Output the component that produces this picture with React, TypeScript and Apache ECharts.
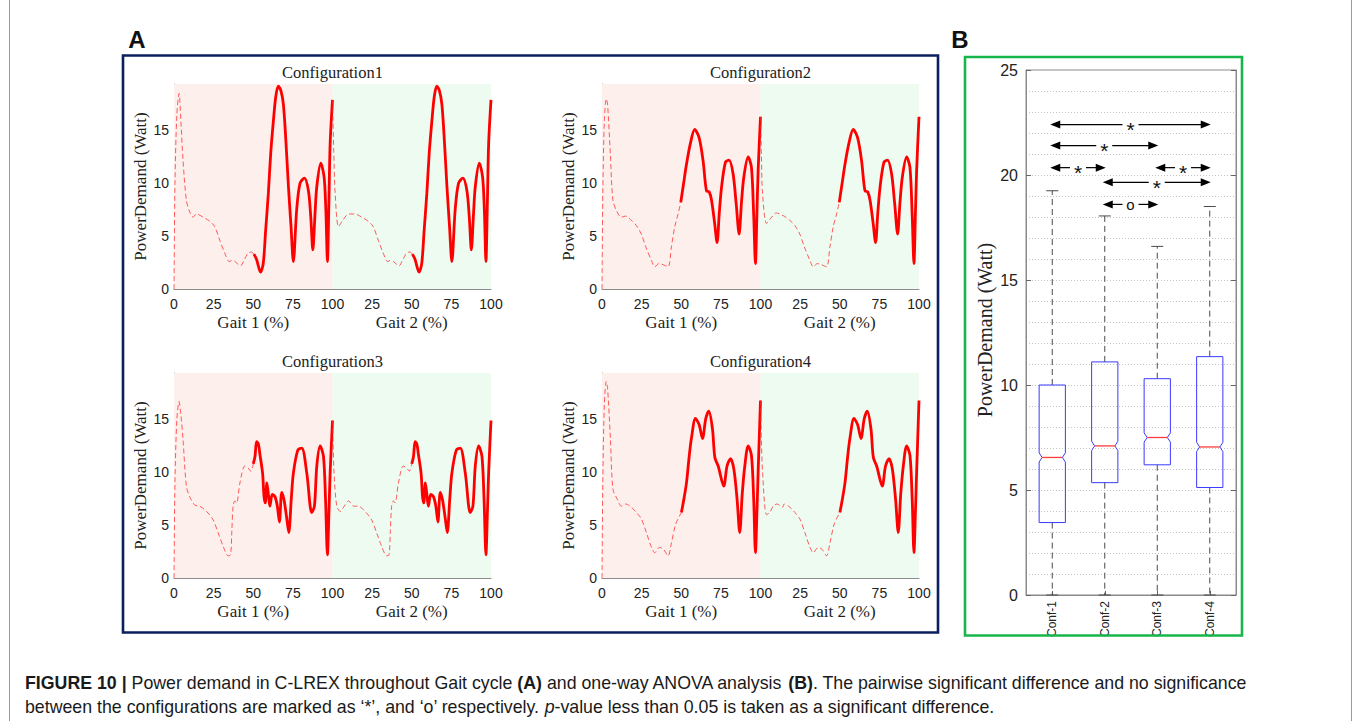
import React, { useEffect, useRef } from "react";
import * as echarts from "echarts";

// ---------- Panel A data (one gait cycle, x in % of gait) ----------
const gaitTicks = ["0", "25", "50", "75", "100", "25", "50", "75", "100"];
const configTitles = ["Configuration1", "Configuration2", "Configuration3", "Configuration4"];

// Configuration 1
const c1Start1: number[][] = [[0, 0], [0.6, 10], [1.8, 16.5], [3.2, 18.5], [4.3, 16], [5.7, 12.2], [7.8, 8.4], [9.9, 7.3], [12, 6.8]];
const c1Start2: number[][] = [[100, 17.9], [100.8, 13], [101.7, 9], [103.8, 5.9], [106.5, 6.5], [109, 7], [111, 7.1]];
const c1Stance: number[][] = [[14.1, 7.1], [18.4, 6.8], [22.6, 6.4], [25.7, 5.9], [28.9, 4.6], [32, 3.4], [34.8, 2.6], [36.5, 2.7], [38.4, 2.6], [42, 2.2], [44.1, 2.7], [46.8, 3.4], [48.9, 3.5], [50.4, 3.3]];
const c1Swing: number[][] = [[50.4, 3.3], [52.1, 2.8], [54.6, 1.6], [56.3, 2.4], [57.8, 5.5], [59.5, 9], [61, 12.8], [62.7, 15.9], [64.2, 18.2], [65.8, 19.2], [67.4, 18.8], [69, 17.5], [70.6, 14], [72.2, 9.7], [73.8, 6], [75.3, 2.6], [77.4, 7.5], [79.5, 10], [82.3, 10.5], [84.8, 9.3], [86.3, 6.8], [87.6, 3.7], [89, 7.2], [90.1, 9.7], [92.6, 11.9], [94.7, 10.6], [95.8, 7.5], [96.8, 2.6], [97.7, 8], [98.5, 13.7], [100, 17.9]];

// Configuration 2
const c2Start1: number[][] = [[0, 0], [0.5, 9], [1.5, 16], [2.7, 18], [3.5, 17.5], [5.3, 12.7], [6.9, 8.4], [9.5, 7.3], [12.2, 6.8]];
const c2Start2: number[][] = [[100, 16.3], [100.6, 12.5], [101.3, 9], [103.8, 6.2], [106, 6.6], [110, 7.2], [113.3, 7]];
const c2Stance: number[][] = [[14.9, 6.9], [18.5, 6.5], [21.7, 6], [24.8, 5.2], [27.6, 4], [31.2, 2.7], [33.3, 2.1], [35.8, 2.4], [38.5, 2.3], [41.7, 2.1], [43.8, 4], [45.9, 5.9], [48, 7.1], [49.7, 8.2]];
const c2Swing: number[][] = [[49.7, 8.2], [51.5, 10], [53.3, 11.8], [55.8, 13.8], [58.5, 15.1], [61.3, 14.3], [63.8, 12.1], [65.9, 9.3], [67.6, 9.2], [69.1, 8.4], [71, 6.3], [72.6, 4.4], [74, 7.2], [75.4, 9.6], [77.9, 12], [80.2, 12.2], [82.7, 10.9], [84.7, 8], [86.5, 5.2], [88, 8.2], [89.5, 10.6], [92.2, 12.5], [94.3, 11.5], [95.7, 7], [96.8, 2.4], [97.8, 7.5], [98.5, 11.2], [100, 16.3]];

// Configuration 3
const c3Start1: number[][] = [[0, 0], [0.6, 9], [1.8, 15], [3.2, 16.7], [4.3, 15.5], [5.7, 13.1], [7.8, 8.7], [9.9, 7.7], [13.1, 6.9]];
const c3Start2: number[][] = [[100, 14.9], [101, 9.9], [102.7, 6.8], [104.9, 6.3], [107.4, 6.8], [110.1, 7.3], [113.3, 6.8]];
const c3Stance: number[][] = [[16.2, 6.8], [20.5, 6.3], [24.7, 5.5], [27.8, 4.3], [31, 3], [34.2, 2.1], [35.7, 2.2], [36.5, 4.5], [37.3, 6.8], [38.4, 7.3], [39.5, 7.1], [41.6, 9], [44.7, 10.6], [46.8, 10.4], [48.5, 10.1], [50, 10.8]];
const c3Swing: number[][] = [[50, 10.8], [51.1, 11.5], [52.1, 12.9], [53.2, 12.7], [54.2, 11.7], [55.9, 9.9], [56.8, 7.7], [57.6, 7.1], [58.6, 9], [59.7, 7.7], [60.5, 6.8], [62, 7.9], [63.7, 7.7], [65.2, 6.8], [66.5, 5.3], [68, 8.1], [69.4, 7.4], [71, 5.8], [72.4, 4.3], [74, 7.5], [75.3, 9.9], [78.1, 12.1], [80.6, 12.3], [83.8, 9.9], [86.9, 6.2], [88.6, 6.8], [90.1, 10.6], [92.2, 12.5], [94.3, 11.5], [95.6, 7.5], [96.8, 2.2], [97.8, 6.5], [98.5, 9.9], [100, 14.9]];

// Configuration 4
const c4Start1: number[][] = [[0, 0], [0.5, 9], [1.5, 16.5], [2.7, 18.6], [3.5, 18], [5.3, 13.2], [6.9, 8.4], [9.5, 7.5], [12.2, 6.8]];
const c4Start2: number[][] = [[100, 16.8], [100.6, 13], [101.3, 10], [103.8, 6], [105.9, 6.2], [108, 6.8], [110.5, 7], [113.9, 6.7]];
const c4Stance: number[][] = [[14.9, 7], [18.5, 6.7], [21.7, 6.2], [24.8, 5.6], [28, 4.3], [31.2, 2.9], [33.3, 2.4], [36.4, 2.9], [38.9, 2.7], [41.7, 2.1], [43.8, 3.3], [46.5, 5.1], [50.1, 6.2]];
const c4Swing: number[][] = [[50.1, 6.2], [51.7, 7.5], [53.3, 9], [55, 11.5], [56.4, 13.2], [59, 15.1], [61.3, 14.5], [63.4, 13.2], [65.5, 15.1], [67.4, 15.8], [69.7, 14.1], [71.2, 11.4], [73.3, 10.6], [76.8, 8.7], [78.9, 10.6], [81.1, 11.3], [83.2, 10.3], [85.2, 7.5], [86.9, 4.3], [88.5, 8], [90.1, 10.6], [92.2, 12.5], [94.3, 11.6], [95.7, 7.5], [96.8, 2.4], [97.8, 6.5], [98.5, 10], [100, 16.8]];

// ---------- Panel B data ----------
const boxCats = ["Conf-1", "Conf-2", "Conf-3", "Conf-4"];
const boxMin = [0, 0, 0, 0];
const boxQ1 = [3.45, 5.35, 6.2, 5.12];
const boxMed = [6.55, 7.1, 7.5, 7.05];
const boxQ3 = [10.0, 11.1, 10.3, 11.35];
const boxMax = [19.25, 18.05, 16.6, 18.5];
const boxTicks = [0, 5, 10, 15, 20, 25];

const sigFrom = [0, 0, 0, 2, 1, 1];
const sigTo = [3, 2, 1, 3, 3, 2];
const sigY = [22.4, 21.4, 20.35, 20.35, 19.65, 18.6];
const sigMark = ["*", "*", "*", "*", "*", "o"];

const captionLine1: [string, string][] = [
  ["b", "FIGURE 10 |"],
  ["n", " Power demand in C-LREX throughout Gait cycle "],
  ["b", "(A)"],
  ["n", " and one-way ANOVA analysis "],
  ["b", "(B)"],
  ["n", ". The pairwise significant difference and no significance"],
];
const captionLine2: [string, string][] = [
  ["n", "between the configurations are marked as \u2018*\u2019, and \u2018o\u2019 respectively. "],
  ["i", "p"],
  ["n", "-value less than 0.05 is taken as a significant difference."],
];

// ---------- layout ----------
const SERIF = "Liberation Serif";
const SANS = "Liberation Sans";
const lineGrids = [
  { left: 174, top: 84, width: 317, height: 205 },
  { left: 602, top: 84, width: 317, height: 205 },
  { left: 174, top: 373, width: 317, height: 205 },
  { left: 602, top: 373, width: 317, height: 205 },
];
const boxGrid = { left: 1026, top: 70, width: 210, height: 525 };

const PINK = "#fcefec";
const MINT = "#eefbf0";

function buildGaitSeries(g: number, start1: number[][], start2: number[][], stance: number[][], swing: number[][]) {
  const lastStart2 = start2[start2.length - 1][0];
  const dash1 = [...start1, ...stance];
  const dash2 = [...start2, ...stance.map((p) => [p[0] + 100, p[1]]).filter((p) => p[0] > lastStart2)];
  const solid2 = swing.map((p) => [p[0] + 100, p[1]]);
  const dashStyle = { color: "rgba(255,40,40,0.75)", width: 1, type: [5, 3] as any };
  const solidStyle = { color: "#ff0000", width: 2.8 };
  const common = { type: "line", xAxisIndex: g, yAxisIndex: g, symbol: "none", smooth: 0.3, silent: true };
  return [
    {
      ...common,
      data: dash1,
      lineStyle: dashStyle,
      markArea: {
        silent: true,
        data: [
          [{ xAxis: 0, itemStyle: { color: PINK } }, { xAxis: 100 }],
          [{ xAxis: 100, itemStyle: { color: MINT } }, { xAxis: 200 }],
        ],
      },
    },
    { ...common, data: swing, lineStyle: solidStyle },
    { ...common, data: dash2, lineStyle: dashStyle },
    { ...common, data: solid2, lineStyle: solidStyle },
  ];
}

function richText(parts: [string, string][]) {
  return parts.map(([k, t]) => `{${k}|${t}}`).join("");
}

export default function App() {
  const ref = useRef<HTMLDivElement>(null);

  useEffect(() => {
    if (!ref.current) return;
    const chart = echarts.init(ref.current, undefined, { renderer: "svg" });

    const gaitData = [
      [c1Start1, c1Start2, c1Stance, c1Swing],
      [c2Start1, c2Start2, c2Stance, c2Swing],
      [c3Start1, c3Start2, c3Stance, c3Swing],
      [c4Start1, c4Start2, c4Stance, c4Swing],
    ];

    const grids: any[] = lineGrids.map((g) => ({ ...g, containLabel: false }));
    grids.push({ ...boxGrid, show: true, borderColor: "#8a8a8a", borderWidth: 1, backgroundColor: "transparent" });

    const xAxes: any[] = lineGrids.map((_, i) => ({
      gridIndex: i,
      type: "value",
      min: 0,
      max: 200,
      interval: 25,
      axisLine: { show: true, onZero: false, lineStyle: { color: "#8c8c8c", width: 1 } },
      axisTick: { show: false },
      splitLine: { show: false },
      axisLabel: {
        formatter: (v: number) => gaitTicks[Math.round(v / 25)] ?? "",
        fontSize: 14,
        fontFamily: SANS,
        color: "#222",
        margin: 8,
      },
    }));
    xAxes.push({
      gridIndex: 4,
      type: "category",
      data: boxCats,
      axisLine: { show: true, lineStyle: { color: "#8a8a8a" } },
      axisTick: { show: true, inside: true, alignWithLabel: true, length: 4, lineStyle: { color: "#666" } },
      axisLabel: { rotate: 90, fontSize: 12, fontFamily: SANS, color: "#222", margin: 6 },
      splitLine: { show: false },
    });

    const yAxes: any[] = lineGrids.map((_, i) => ({
      gridIndex: i,
      type: "value",
      min: 0,
      max: 19.4,
      interval: 5,
      axisLine: { show: true, lineStyle: { color: "#8c8c8c", width: 1 } },
      axisTick: { show: false },
      splitLine: { show: false },
      axisLabel: {
        formatter: (v: number) => (v % 5 === 0 ? String(v) : ""),
        fontSize: 14,
        fontFamily: SANS,
        color: "#222",
        margin: 5,
      },
    }));
    yAxes.push({
      gridIndex: 4,
      type: "value",
      min: boxTicks[0],
      max: boxTicks[boxTicks.length - 1],
      interval: 5,
      axisLine: { show: true, lineStyle: { color: "#8a8a8a" } },
      axisTick: { show: true, inside: true, length: 5, lineStyle: { color: "#666" } },
      axisLabel: { fontSize: 16, fontFamily: SANS, color: "#222", margin: 8 },
      splitLine: { show: true, lineStyle: { color: "#c4c4c4", type: [1, 2], width: 1 } },
      minorTick: { show: false, splitNumber: 5 },
      minorSplitLine: { show: true, lineStyle: { color: "#c4c4c4", type: [1, 2], width: 1 } },
    });
    yAxes.push({
      gridIndex: 4,
      type: "value",
      position: "right",
      min: boxTicks[0],
      max: boxTicks[boxTicks.length - 1],
      interval: 5,
      axisLine: { show: true, lineStyle: { color: "#8a8a8a" } },
      axisTick: { show: true, inside: true, length: 5, lineStyle: { color: "#666" } },
      axisLabel: { show: false },
      splitLine: { show: false },
    });

    const series: any[] = [];
    gaitData.forEach((d, i) => series.push(...buildGaitSeries(i, d[0], d[1], d[2], d[3])));

    // notched box plot
    series.push({
      type: "custom",
      xAxisIndex: 4,
      yAxisIndex: 4,
      silent: true,
      encode: { x: 0, y: [1, 2, 3, 4, 5] },
      data: boxCats.map((_, i) => [i, boxMin[i], boxQ1[i], boxMed[i], boxQ3[i], boxMax[i]]),
      renderItem: (params: any, api: any) => {
        const i = api.value(0);
        const pMin = api.coord([i, api.value(1)]);
        const cx = pMin[0];
        const yMin = pMin[1];
        const yQ1 = api.coord([i, api.value(2)])[1];
        const med = api.value(3);
        const yMed = api.coord([i, med])[1];
        const yNotchHi = api.coord([i, med + 0.22])[1];
        const yNotchLo = api.coord([i, med - 0.22])[1];
        const yQ3 = api.coord([i, api.value(4)])[1];
        const yMax = api.coord([i, api.value(5)])[1];
        const bw = api.size([1, 0])[0] * 0.5;
        const L = cx - bw / 2;
        const R = cx + bw / 2;
        const ind = 3;
        const whisk = { stroke: "#4a4a4a", lineWidth: 1, lineDash: [6, 4] };
        const cap = { stroke: "#4a4a4a", lineWidth: 1 };
        return {
          type: "group",
          children: [
            { type: "line", shape: { x1: cx, y1: yQ3, x2: cx, y2: yMax }, style: whisk },
            { type: "line", shape: { x1: cx, y1: yQ1, x2: cx, y2: yMin }, style: whisk },
            { type: "line", shape: { x1: cx - 6, y1: yMax, x2: cx + 6, y2: yMax }, style: cap },
            { type: "line", shape: { x1: cx - 6, y1: yMin, x2: cx + 6, y2: yMin }, style: cap },
            {
              type: "polygon",
              shape: {
                points: [
                  [L, yQ1], [R, yQ1], [R, yNotchLo], [R - ind, yMed], [R, yNotchHi],
                  [R, yQ3], [L, yQ3], [L, yNotchHi], [L + ind, yMed], [L, yNotchLo],
                ],
              },
              style: { fill: "none", stroke: "#3a3aff", lineWidth: 1 },
            },
            { type: "line", shape: { x1: L + ind, y1: yMed, x2: R - ind, y2: yMed }, style: { stroke: "#ff3b3b", lineWidth: 1.3 } },
          ],
        };
      },
    });

    // significance arrows
    series.push({
      type: "custom",
      xAxisIndex: 4,
      yAxisIndex: 4,
      silent: true,
      encode: { x: [0, 1], y: 2 },
      data: sigFrom.map((f, i) => [f, sigTo[i], sigY[i]]),
      renderItem: (params: any, api: any) => {
        const p1 = api.coord([api.value(0), api.value(2)]);
        const p2 = api.coord([api.value(1), api.value(2)]);
        const y = p1[1];
        const x1 = p1[0] - 2;
        const x2 = p2[0] + 1;
        const mid = (x1 + x2) / 2;
        const gap = 8;
        const ah = 10;
        const aw = 4;
        const mark = sigMark[params.dataIndex];
        const ls = { stroke: "#000", lineWidth: 1.2 };
        return {
          type: "group",
          children: [
            { type: "line", shape: { x1: x1 + ah - 1, y1: y, x2: mid - gap, y2: y }, style: ls },
            { type: "line", shape: { x1: mid + gap, y1: y, x2: x2 - ah + 1, y2: y }, style: ls },
            { type: "polygon", shape: { points: [[x1, y], [x1 + ah, y - aw], [x1 + ah, y + aw]] }, style: { fill: "#000" } },
            { type: "polygon", shape: { points: [[x2, y], [x2 - ah, y - aw], [x2 - ah, y + aw]] }, style: { fill: "#000" } },
            {
              type: "text",
              style: {
                text: mark,
                x: mid,
                y: mark === "*" ? y + 5 : y,
                align: "center",
                verticalAlign: "middle",
                fontSize: mark === "*" ? 21 : 15,
                fontFamily: SANS,
                fill: "#111",
              },
            },
          ],
        };
      },
    });

    // graphics: frames, panel letters, titles, axis names, caption
    const graphic: any[] = [
      { type: "line", shape: { x1: 9.5, y1: 0, x2: 9.5, y2: 721 }, style: { stroke: "#9a9a9a", lineWidth: 1 } },
      { type: "line", shape: { x1: 1351.5, y1: 0, x2: 1351.5, y2: 721 }, style: { stroke: "#9a9a9a", lineWidth: 1 } },
      { type: "rect", shape: { x: 123, y: 55.5, width: 815, height: 577 }, style: { fill: "none", stroke: "#0b1f5e", lineWidth: 2.6 }, z: 10 },
      { type: "rect", shape: { x: 965, y: 57, width: 277, height: 578.5 }, style: { fill: "none", stroke: "#17b64a", lineWidth: 2.6 }, z: 10 },
      { type: "text", style: { text: "A", x: 137, y: 39, align: "center", verticalAlign: "middle", fontSize: 24, fontWeight: "bold", fontFamily: SANS, fill: "#111" } },
      { type: "text", style: { text: "B", x: 960, y: 39, align: "center", verticalAlign: "middle", fontSize: 24, fontWeight: "bold", fontFamily: SANS, fill: "#111" } },
    ];
    lineGrids.forEach((g, i) => {
      graphic.push({
        type: "text",
        style: { text: configTitles[i], x: g.left + g.width / 2, y: g.top - 12, align: "center", verticalAlign: "middle", fontSize: 16.5, fontFamily: SERIF, fill: "#222" },
      });
      graphic.push({
        type: "text",
        style: { text: "Gait 1 (%)", x: g.left + g.width * 0.25, y: g.top + g.height + 33, align: "center", verticalAlign: "middle", fontSize: 17, fontFamily: SERIF, fill: "#222" },
      });
      graphic.push({
        type: "text",
        style: { text: "Gait 2 (%)", x: g.left + g.width * 0.75, y: g.top + g.height + 33, align: "center", verticalAlign: "middle", fontSize: 17, fontFamily: SERIF, fill: "#222" },
      });
      graphic.push({
        type: "text",
        x: g.left - 34,
        y: g.top + g.height / 2,
        rotation: Math.PI / 2,
        style: { text: "PowerDemand (Watt)", x: 0, y: 0, align: "center", verticalAlign: "middle", fontSize: 17, fontFamily: SERIF, fill: "#222" },
      });
    });
    graphic.push({
      type: "text",
      x: 985,
      y: 330,
      rotation: Math.PI / 2,
      style: { text: "PowerDemand (Watt)", x: 0, y: 0, align: "center", verticalAlign: "middle", fontSize: 20, fontFamily: SERIF, fill: "#222" },
    });
    const FS = 17.75;
    const rich = {
      b: { fontSize: FS, fontFamily: SANS, fontWeight: "bold", fill: "#1a1a1a" },
      n: { fontSize: FS, fontFamily: SANS, fill: "#1a1a1a" },
      i: { fontSize: FS, fontFamily: SANS, fontStyle: "italic", fill: "#1a1a1a" },
    };
    graphic.push({
      type: "text",
      style: { text: richText(captionLine1), rich, x: 25, y: 683, align: "left", verticalAlign: "middle", fontSize: FS, fontFamily: SANS, fill: "#1a1a1a" },
    });
    graphic.push({
      type: "text",
      style: { text: richText(captionLine2), rich, x: 25, y: 707, align: "left", verticalAlign: "middle", fontSize: FS, fontFamily: SANS, fill: "#1a1a1a" },
    });

    chart.setOption({
      animation: false,
      backgroundColor: "#ffffff",
      textStyle: { fontFamily: SANS },
      grid: grids,
      xAxis: xAxes,
      yAxis: yAxes,
      series,
      graphic,
    });

    return () => chart.dispose();
  }, []);

  return <div ref={ref} style={{ position: "absolute", left: 0, top: 0, width: 1355, height: 721 }} />;
}
